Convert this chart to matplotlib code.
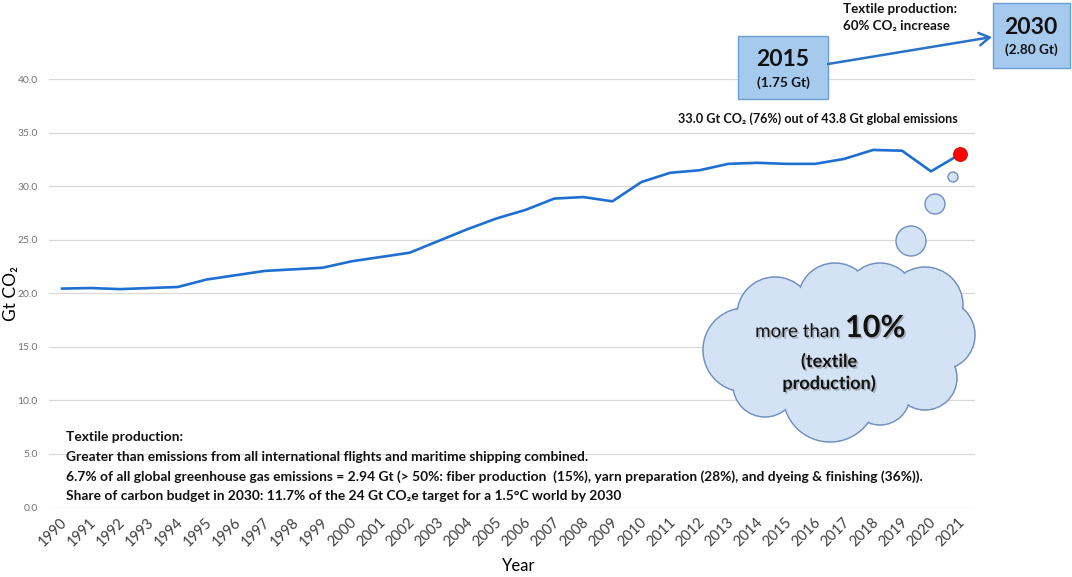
import matplotlib
matplotlib.use('Agg')
import matplotlib.pyplot as plt
from matplotlib.patches import Circle, Ellipse, Rectangle, FancyArrowPatch
from matplotlib.transforms import ScaledTranslation
import matplotlib.patheffects as pe

plt.rcParams['font.family'] = ['Lato', 'DejaVu Sans']

years = list(range(1990, 2022))
emissions = [20.45, 20.5, 20.4, 20.5, 20.6, 21.3, 21.7, 22.1, 22.25, 22.4,
             23.0, 23.4, 23.8, 24.9, 26.0, 27.0, 27.8, 28.86, 29.0, 28.6,
             30.4, 31.27, 31.5, 32.1, 32.2, 32.1, 32.1, 32.56, 33.4, 33.33,
             31.4, 33.0]
y_ticks = [0, 5, 10, 15, 20, 25, 30, 35, 40]
y_tick_labels = [f"{v:.1f}" for v in y_ticks]
x_tick_labels = [str(y) for y in years]

bottom_lines = [
    "Textile production:",
    "Greater than emissions from all international flights and maritime shipping combined.",
    "6.7% of all global greenhouse gas emissions = 2.94 Gt (> 50%: fiber production  (15%), yarn preparation (28%), and dyeing & finishing (36%)).",
    "Share of carbon budget in 2030: 11.7% of the 24 Gt CO\u2082e target for a 1.5\u00b0C world by 2030",
]

W, H = 1072, 577
fig = plt.figure(figsize=(W / 100, H / 100), dpi=100)
fig.patch.set_facecolor('white')

ax = fig.add_axes([49 / W, 69.5 / H, 926 / W, 428.2 / H])
ax.plot(years, emissions, color='#1f6fd1', lw=1.9, solid_joinstyle='round', zorder=3)
ax.plot(years[-1:], emissions[-1:], 'o', ms=10, mfc='#ff0000', mec='#d00000', mew=0.6, zorder=4)
ax.set_xlim(1989.55, 2021.52)
ax.set_ylim(0, 40)
ax.set_yticks(y_ticks)
ax.set_yticklabels(y_tick_labels)
ax.set_xticks(years)
ax.set_xticklabels(x_tick_labels)
ax.grid(axis='y', color='#d9d9d9', lw=0.9)
ax.set_axisbelow(True)
for s in ax.spines.values():
    s.set_visible(False)
ax.tick_params(length=0)
ax.tick_params(axis='y', pad=8, labelsize=7.5, labelcolor='#737373')
ax.tick_params(axis='x', pad=9, labelsize=10.5, labelcolor='#404040')
offset = ScaledTranslation(3 / 100, 0, fig.dpi_scale_trans)
for lbl in ax.get_xticklabels():
    lbl.set_rotation(45)
    lbl.set_ha('right')
    lbl.set_va('center')
    lbl.set_rotation_mode('anchor')
    lbl.set_transform(lbl.get_transform() + offset)

fig.text(11 / W, 1 - 294 / H, 'Gt CO\u2082', rotation=90, ha='center', va='center', fontsize=12.5)
fig.text(519 / W, 1 - 566 / H, 'Year', ha='center', va='center', fontsize=12)

ov = fig.add_axes([0, 0, 1, 1], zorder=5)
ov.set_xlim(0, W)
ov.set_ylim(H, 0)
ov.axis('off')
ov.patch.set_visible(False)

# bottom text block
for i, line in enumerate(bottom_lines):
    ov.text(66, 437 + i * 19.6, line, fontweight='bold', fontsize=9.9, va='center', ha='left', color='#111111')

# top annotation boxes
box_fc = '#a6caee'
box_ec = '#6a9fd6'
ov.add_patch(Rectangle((738, 36), 90, 63, fc=box_fc, ec=box_ec, lw=1))
ov.text(783, 59, '2015', fontweight='bold', fontsize=16.5, ha='center', va='center', color='#111111')
ov.text(783, 83, '(1.75 Gt)', fontweight='bold', fontsize=9.8, ha='center', va='center', color='#111111')
ov.add_patch(Rectangle((993, 3), 77, 65, fc=box_fc, ec=box_ec, lw=1))
ov.text(1031, 28, '2030', fontweight='bold', fontsize=16.5, ha='center', va='center', color='#111111')
ov.text(1031, 50, '(2.80 Gt)', fontweight='bold', fontsize=9.8, ha='center', va='center', color='#111111')
ov.add_patch(FancyArrowPatch((828, 64), (992, 37), arrowstyle='->,head_length=5,head_width=3',
                             color='#2a72c8', lw=1.8, mutation_scale=1.5, shrinkA=0, shrinkB=0))
ov.text(843, 9, 'Textile production:', fontweight='bold', fontsize=9.6, ha='left', va='center', color='#111111')
ov.text(843, 26, '60% CO\u2082 increase', fontweight='bold', fontsize=9.6, ha='left', va='center', color='#111111')
ov.text(678, 119, '33.0 Gt CO\u2082 (76%) out of 43.8 Gt global emissions', fontweight='bold',
        fontsize=9.1, ha='left', va='center', color='#111111')

# thought bubble
cfc = '#d3e2f5'
cec = '#6f90c0'
for (cx, cy, r) in [(953, 177, 5), (935, 204, 10), (911, 241, 15)]:
    ov.add_patch(Circle((cx, cy), r, fc=cfc, ec=cec, lw=1))

lobes = [(745, 350, 42), (775, 315, 38), (835, 300, 37), (880, 298, 35), (925, 305, 38),
         (940, 335, 35), (925, 378, 32), (880, 395, 30), (830, 395, 47), (765, 385, 32)]
for (cx, cy, r) in lobes:
    ov.add_patch(Circle((cx, cy), r, fc=cfc, ec=cec, lw=1.1, zorder=1))
for (cx, cy, r) in lobes:
    ov.add_patch(Circle((cx, cy), r - 1.0, fc=cfc, ec='none', zorder=2))
ov.add_patch(Ellipse((845, 350), 200, 110, fc=cfc, ec='none', zorder=2))

shadow = [pe.SimplePatchShadow(offset=(1.2, -1.2), shadow_rgbFace='#777777', alpha=0.5), pe.Normal()]
ov.text(840, 337, 'more than', fontsize=13.5, ha='right', va='baseline', color='#111111', zorder=3, path_effects=shadow)
ov.text(845, 337, '10%', fontsize=22, fontweight='bold', ha='left', va='baseline', color='#111111', zorder=3, path_effects=shadow)
ov.text(829, 361, '(textile', fontsize=13, fontweight='bold', ha='center', va='center', color='#111111', zorder=3, path_effects=shadow)
ov.text(829, 383, 'production)', fontsize=13, fontweight='bold', ha='center', va='center', color='#111111', zorder=3, path_effects=shadow)

fig.savefig('out.png', dpi=100)
